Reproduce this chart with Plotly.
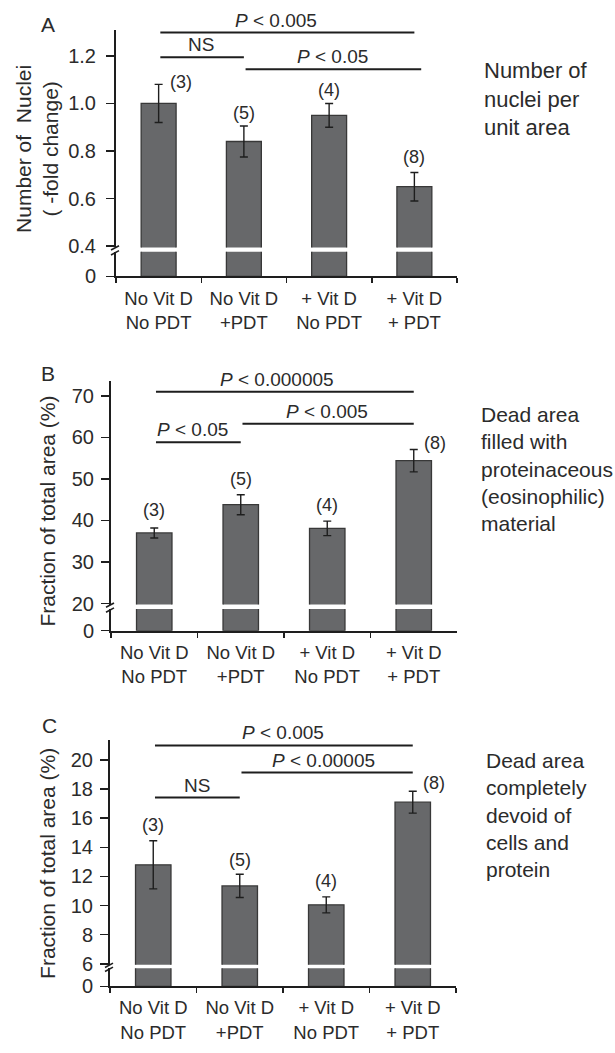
import plotly.graph_objects as go

# ---------------- data ----------------
categories = ["No Vit D<br>No PDT", "No Vit D<br>+PDT", "+ Vit D<br>No PDT", "+ Vit D<br>+ PDT"]
n_counts = [3, 5, 4, 8]

nuclei_mean = [1.00, 0.84, 0.95, 0.65]
nuclei_err = [0.08, 0.065, 0.05, 0.06]

protein_mean = [37.0, 43.8, 38.1, 54.4]
protein_err = [1.2, 2.4, 1.75, 2.7]

devoid_mean = [12.8, 11.35, 10.05, 17.1]
devoid_err = [1.65, 0.8, 0.55, 0.75]

nuclei_ticks = [0.4, 0.6, 0.8, 1.0, 1.2]
nuclei_ticktext = ["0.4", "0.6", "0.8", "1.0", "1.2"]
protein_ticks = [20, 30, 40, 50, 60, 70]
devoid_ticks = [6, 8, 10, 12, 14, 16, 18, 20]

nuclei_tests = [(0, 3, "<i>P</i> < 0.005"), (0, 1, "NS"), (1, 3, "<i>P</i> < 0.05")]
protein_tests = [(0, 3, "<i>P</i> < 0.000005"), (1, 3, "<i>P</i> < 0.005"), (0, 1, "<i>P</i> < 0.05")]
devoid_tests = [(0, 3, "<i>P</i> < 0.005"), (1, 3, "<i>P</i> < 0.00005"), (0, 1, "NS")]

# ---------------- style / layout ----------------
W, H = 615, 1053
FONT = "Liberation Sans, Arial, sans-serif"
TXT = "#2b2b2b"
LINE = "#1e1e1e"
BAR = "#67686a"
BAR_EDGE = "#383838"

def px_x(v):
    return v / W

def px_y(v):
    return 1 - v / H

panels = [
    dict(letter="A", mean=nuclei_mean, err=nuclei_err, ticks=nuclei_ticks, ticktext=nuclei_ticktext,
         tests=nuclei_tests, bracket_y=[1.298, 1.194, 1.144], bracket_ext=[0, 0, 0.08], text_shift=[-11, 0, 0],
         ax_px=(116, 457), up_px=(30, 250), lo_px=(254.5, 279.3), rng=[0.395, 1.31], lo_rng=[0, 0.4],
         title="Number of  Nuclei<br>( -fold change)", title_xy=(37.5, 151),
         side="Number of<br>nuclei per<br>unit area", side_xy=(482, 100), side_size=22,
         letter_xy=(48, 25), nshift=[(22, -10), (0, 1), (0, 1), (0, 3)], standoff=6),
    dict(letter="B", mean=protein_mean, err=protein_err, ticks=protein_ticks, ticktext=[str(t) for t in protein_ticks],
         tests=protein_tests, bracket_y=[71.0, 63.3, 58.8], bracket_ext=[0, 0, 0], text_shift=[-7, 0, -5],
         ax_px=(111, 457), up_px=(385, 611), lo_px=(615.5, 637.3), rng=[19.76, 73.57], lo_rng=[0, 20],
         title="Fraction of total area (%)", title_xy=(48, 517),
         side="Dead area<br>filled with<br>proteinaceous<br>(eosinophilic)<br>material", side_xy=(479, 473.5), side_size=21,
         letter_xy=(48, 377), nshift=[(0, 6), (0, 4), (0, 4), (21, -6)], standoff=3),
    dict(letter="C", mean=devoid_mean, err=devoid_err, ticks=devoid_ticks, ticktext=[str(t) for t in devoid_ticks],
         tests=devoid_tests, bracket_y=[21.0, 19.14, 17.42], bracket_ext=[0, 0, 0], text_shift=[0, -3, 0],
         ax_px=(110, 456), up_px=(748, 975), lo_px=(978.5, 996.7), rng=[5.93, 21.36], lo_rng=[0, 6],
         title="Fraction of total area (%)", title_xy=(48, 873),
         side="Dead area<br>completely<br>devoid of<br>cells and<br>protein", side_xy=(484, 823.5), side_size=21,
         letter_xy=(49, 733), nshift=[(0, 4), (0, 2), (0, 4), (21, -4)], standoff=3),
]

fig = go.Figure()
layout = dict(
    width=W, height=H, margin=dict(l=0, r=0, t=0, b=0),
    paper_bgcolor="white", plot_bgcolor="rgba(0,0,0,0)",
    showlegend=False, hovermode=False,
    font=dict(family=FONT, color=TXT, size=18),
)
shapes = []
annotations = []

for k, p in enumerate(panels):
    iu, il = 2 * k + 1, 2 * k + 2
    xu = "x" if iu == 1 else f"x{iu}"
    yu = "y" if iu == 1 else f"y{iu}"
    xl, yl = f"x{il}", f"y{il}"
    xdom = [px_x(p["ax_px"][0]), px_x(p["ax_px"][1])]

    # bars, upper segment (with error bars)
    fig.add_trace(go.Bar(
        x=categories, y=p["mean"], xaxis=xu, yaxis=yu, width=0.41,
        marker=dict(color=BAR, line=dict(color=BAR_EDGE, width=1.3)),
        error_y=dict(type="data", array=p["err"], visible=True, color=LINE, thickness=1.4, width=4),
        hoverinfo="skip",
    ))
    # bars, lower (broken) segment
    fig.add_trace(go.Bar(
        x=categories, y=p["mean"], xaxis=xl, yaxis=yl, width=0.41,
        marker=dict(color=BAR, line=dict(color=BAR_EDGE, width=1.3)),
        hoverinfo="skip",
    ))

    layout["xaxis" if iu == 1 else f"xaxis{iu}"] = dict(
        domain=xdom, anchor=yu, type="category", range=[-0.5, 3.5],
        visible=False, matches=xl, categoryorder="array", categoryarray=categories,
    )
    layout[f"xaxis{il}"] = dict(
        domain=xdom, anchor=yl, type="category", range=[-0.5, 3.5],
        categoryorder="array", categoryarray=categories,
        showline=True, linecolor=LINE, linewidth=2, ticks="outside", tickson="boundaries",
        ticklen=5, tickwidth=1.5, tickcolor=LINE, showgrid=False, zeroline=False,
        tickfont=dict(size=18.5, color=TXT, family=FONT), ticklabelstandoff=4,
    )
    layout["yaxis" if iu == 1 else f"yaxis{iu}"] = dict(
        domain=[px_y(p["up_px"][1]), px_y(p["up_px"][0])], anchor=xu, range=p["rng"],
        tickvals=p["ticks"], ticktext=p["ticktext"], ticks="outside", ticklen=8, tickwidth=1.5,
        tickcolor=LINE, showline=True, linecolor=LINE, linewidth=2, showgrid=False, zeroline=False,
        tickfont=dict(size=20, color=TXT, family=FONT), ticklabelstandoff=p["standoff"],
    )
    layout[f"yaxis{il}"] = dict(
        domain=[px_y(p["lo_px"][1]), px_y(p["lo_px"][0])], anchor=xl, range=p["lo_rng"],
        tickvals=[0], ticktext=["0"], ticks="outside", ticklen=8, tickwidth=1.5,
        tickcolor=LINE, showline=True, linecolor=LINE, linewidth=2, showgrid=False, zeroline=False,
        tickfont=dict(size=20, color=TXT, family=FONT), ticklabelstandoff=p["standoff"],
    )

    # axis break marks
    ax = p["ax_px"][0]
    for yb in (p["up_px"][1] + 0.5, p["lo_px"][0] + 1.0):
        shapes.append(dict(type="line", xref="paper", yref="paper",
                           x0=px_x(ax - 5), y0=px_y(yb + 2.2), x1=px_x(ax + 3), y1=px_y(yb - 2.2),
                           line=dict(color=LINE, width=1.6)))

    # significance brackets
    for (i, j, label), by, ext, ts in zip(p["tests"], p["bracket_y"], p["bracket_ext"], p["text_shift"]):
        shapes.append(dict(type="line", xref=xu, yref=yu, x0=i + 0.02, x1=j + ext, y0=by, y1=by,
                           line=dict(color=LINE, width=2)))
        annotations.append(dict(x=(i + j + ext) / 2, y=by, xref=xu, yref=yu, text=label,
                                showarrow=False, yanchor="bottom", yshift=0, xshift=ts,
                                font=dict(size=19, color=TXT, family=FONT)))

    # sample sizes
    for idx, (m, e, n) in enumerate(zip(p["mean"], p["err"], n_counts)):
        dx, dy = p["nshift"][idx]
        annotations.append(dict(x=idx, y=m + e, xref=xu, yref=yu, text=f"({n})", showarrow=False,
                                yanchor="bottom", xshift=dx, yshift=dy,
                                font=dict(size=18, color=TXT, family=FONT)))

    # y title
    annotations.append(dict(x=px_x(p["title_xy"][0]), y=px_y(p["title_xy"][1]), xref="paper", yref="paper",
                            text=p["title"], textangle=-90, showarrow=False, xanchor="center", yanchor="middle",
                            font=dict(size=21, color=TXT, family=FONT)))
    # side description
    annotations.append(dict(x=px_x(p["side_xy"][0]), y=px_y(p["side_xy"][1]), xref="paper", yref="paper",
                            text=p["side"], showarrow=False, xanchor="left", yanchor="middle", align="left",
                            font=dict(size=p["side_size"], color=TXT, family=FONT)))
    # panel letter
    annotations.append(dict(x=px_x(p["letter_xy"][0]), y=px_y(p["letter_xy"][1]), xref="paper", yref="paper",
                            text=p["letter"], showarrow=False, xanchor="center", yanchor="middle",
                            font=dict(size=21, color=TXT, family=FONT)))

layout["shapes"] = shapes
layout["annotations"] = annotations
fig.update_layout(**layout)
# page body without the browser's default margin, so the figure fills the window exactly
fig.write_html("out.html", config={"displayModeBar": False, "staticPlot": True},
               post_script="document.body.style.margin='0';")
